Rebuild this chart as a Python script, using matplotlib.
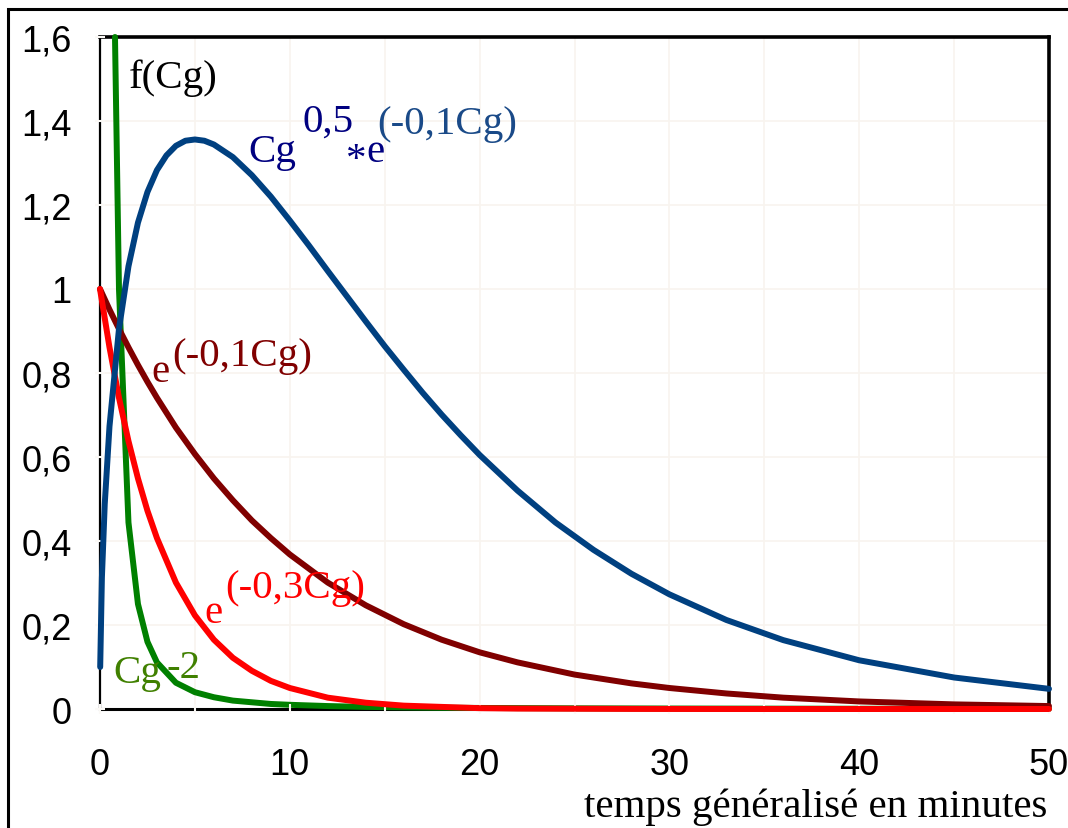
import matplotlib
matplotlib.use('Agg')
import matplotlib.pyplot as plt
from matplotlib.patches import Rectangle

# values
x = [0, 0.5, 1, 1.5, 2, 2.5, 3, 4, 5, 6, 7, 8, 9, 10, 12, 14, 16, 18, 20,
     22, 25, 28, 30, 33, 36, 40, 45, 50]
exp01 = [1.0, 0.951, 0.905, 0.861, 0.819, 0.779, 0.741, 0.670, 0.607, 0.549,
         0.497, 0.449, 0.407, 0.368, 0.301, 0.247, 0.202, 0.165, 0.135,
         0.111, 0.082, 0.061, 0.050, 0.037, 0.027, 0.018, 0.011, 0.007]
exp03 = [1.0, 0.861, 0.741, 0.638, 0.549, 0.472, 0.407, 0.301, 0.223, 0.165,
         0.122, 0.091, 0.067, 0.050, 0.027, 0.015, 0.008, 0.005, 0.002,
         0.001, 0.0006, 0.0002, 0.0001, 0.0, 0.0, 0.0, 0.0, 0.0]

x_blue = [0.01, 0.1, 0.25, 0.5, 1, 1.5, 2, 2.5, 3, 3.5, 4, 4.5, 5, 5.5, 6, 7,
          8, 9, 10, 11, 12, 13, 14, 15, 16, 17, 18, 19, 20, 22, 24, 26, 28,
          30, 33, 36, 40, 45, 50]
blue = [0.100, 0.313, 0.488, 0.673, 0.905, 1.054, 1.158, 1.231, 1.283, 1.318,
        1.341, 1.353, 1.356, 1.353, 1.344, 1.314, 1.271, 1.220, 1.163, 1.104,
        1.043, 0.983, 0.923, 0.864, 0.808, 0.753, 0.701, 0.652, 0.605, 0.520,
        0.444, 0.379, 0.322, 0.273, 0.212, 0.164, 0.116, 0.075, 0.048]

x_green = [0.79, 1, 1.5, 2, 2.5, 3, 4, 5, 6, 7, 8, 9, 10, 12, 14, 16, 18, 20,
           25, 30, 40, 50]
green = [1.6, 1.0, 0.444, 0.25, 0.16, 0.111, 0.0625, 0.04, 0.028, 0.020,
         0.016, 0.012, 0.010, 0.007, 0.005, 0.004, 0.003, 0.0025, 0.0016,
         0.0011, 0.0006, 0.0004]

xticks = [0, 5, 10, 15, 20, 25, 30, 35, 40, 45, 50]
xlabels = ['0', '', '10', '', '20', '', '30', '', '40', '', '50']
yticks = [0, 0.2, 0.4, 0.6, 0.8, 1.0, 1.2, 1.4, 1.6]
ylabels = ['0', '0,2', '0,4', '0,6', '0,8', '1', '1,2', '1,4', '1,6']

W, H = 1068, 829
fig = plt.figure(figsize=(W / 100, H / 100), dpi=100)
ax = fig.add_axes([100 / W, 1 - 710 / H, 949 / W, 672 / H])

lw = 4.3
style = dict(lw=lw, clip_on=False, solid_capstyle='round',
             solid_joinstyle='round')
ax.plot(x_green, green, color='#008000', zorder=3, **style)
ax.plot(x, exp01, color='#800000', zorder=4, **style)
ax.plot(x, exp03, color='#ff0000', zorder=5, **style)
ax.plot(x_blue, blue, color='#004080', zorder=6, **style)

ax.set_xlim(0, 50)
ax.set_ylim(0, 1.6)

# faint grid under the curves
for t in xticks:
    ax.axvline(t, color='#f8f4ef', lw=1.2, zorder=0)
for t in yticks:
    ax.axhline(t, color='#f8f4ef', lw=1.2, zorder=0)

ax.tick_params(direction='inout', length=7, width=1.5, color='#fbf9f6')
ax.tick_params(axis='x', pad=24)
ax.tick_params(axis='y', pad=17)
ax.set_xticks(xticks)
ax.set_xticklabels(xlabels, fontsize=26, family='Liberation Sans')
ax.set_yticks(yticks)
ax.set_yticklabels(ylabels, fontsize=26, family='Liberation Sans')
ax.xaxis.set_zorder(3)
ax.yaxis.set_zorder(3)

ax.spines['left'].set_linewidth(1.6)
ax.spines['bottom'].set_linewidth(2.2)
ax.spines['top'].set_linewidth(2.6)
ax.spines['right'].set_linewidth(2.6)

# outer frame (only left and top edges visible)
fig.patches.append(Rectangle((8 / W, -0.5), 2, 0.5 + 1 - 10 / H,
                             transform=fig.transFigure, fill=False,
                             lw=2.2, edgecolor='black'))

serif = 'Liberation Serif'
fs = 29.5


def txt(px, py, s, color, size=fs):
    fig.text(px / W, 1 - py / H, s, color=color, fontsize=size,
             family=serif, va='baseline', ha='left')


txt(129, 88, 'f(Cg)', 'black')

navy = '#000080'
txt(248, 162, 'Cg', navy)
txt(302, 132, '0,5', navy)
txt(346, 170, '*', navy)
txt(366, 162, 'e', navy)
txt(377, 134, '(-0,1Cg)', '#1a4a88')

txt(151, 382, 'e', '#800000')
txt(172, 366, '(-0,1Cg)', '#800000')

txt(204, 623, 'e', '#ff0000')
txt(225, 598, '(-0,3Cg)', '#ff0000')

txt(113, 683, 'Cg', '#408000')
txt(167, 678, '-2', '#408000')

fig.text(1047 / W, 1 - 817 / H, 'temps généralisé en minutes', color='black',
         fontsize=fs, family=serif, va='baseline', ha='right')

fig.savefig('out.png', dpi=100)
